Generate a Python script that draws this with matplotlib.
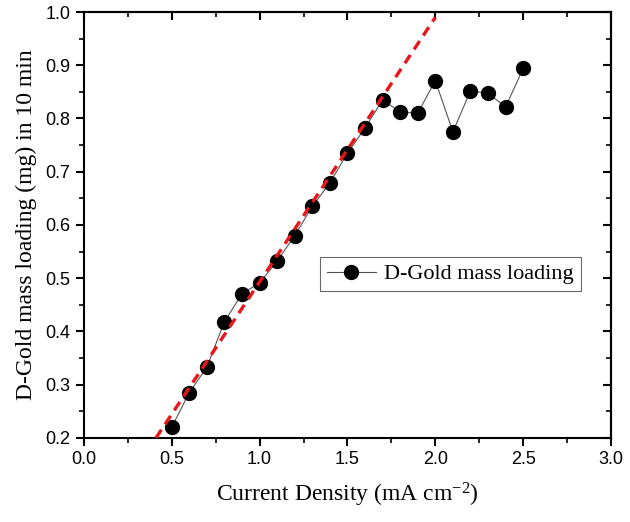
import numpy as np
import matplotlib.pyplot as plt
from matplotlib.ticker import MultipleLocator

# current density (mA cm-2) and deposited mass (mg)
current = [0.5, 0.6, 0.7, 0.8, 0.9, 1.0, 1.1, 1.2, 1.3, 1.4, 1.5,
           1.6, 1.7, 1.8, 1.9, 2.0, 2.1, 2.2, 2.3, 2.4, 2.5]
mass = [0.220, 0.285, 0.333, 0.418, 0.471, 0.491, 0.532, 0.580, 0.635,
        0.679, 0.735, 0.782, 0.835, 0.812, 0.810, 0.871, 0.775, 0.852,
        0.847, 0.822, 0.894]

# linear fit of the low-current region
fit_slope = 0.497
fit_intercept = -0.004
fit_range = [0.41, 2.0]

SERIF = 'Liberation Serif'
SANS = 'Liberation Sans'
plt.rcParams['mathtext.fontset'] = 'custom'
plt.rcParams['mathtext.rm'] = SERIF
plt.rcParams['mathtext.default'] = 'regular'

fig = plt.figure(figsize=(6.3, 5.22), dpi=100)
ax = fig.add_axes([0.133, 0.161, 0.837, 0.816])

ax.plot(current, mass, '-', color='#555555', lw=0.8,
        marker='o', ms=10, mfc='black', mec='black',
        label='D-Gold mass loading', zorder=3)

xf = np.array(fit_range)
ax.plot(xf, fit_slope * xf + fit_intercept, '--', color='#e8161b', lw=2.4,
        dashes=(3, 2), zorder=4)

ax.set_xlim(0, 3.0)
ax.set_ylim(0.2, 1.0)
ax.xaxis.set_major_locator(MultipleLocator(0.5))
ax.xaxis.set_minor_locator(MultipleLocator(0.25))
ax.yaxis.set_major_locator(MultipleLocator(0.1))
ax.yaxis.set_minor_locator(MultipleLocator(0.05))
ax.tick_params(which='major', direction='out', length=6, width=1.5,
               labelsize=13)
ax.tick_params(which='minor', direction='out', length=3.5, width=1.2)
for lab in ax.get_xticklabels() + ax.get_yticklabels():
    lab.set_fontfamily(SANS)
ax.xaxis.set_major_formatter(plt.FuncFormatter(lambda v, p: f'{v:.1f}'))
ax.yaxis.set_major_formatter(plt.FuncFormatter(lambda v, p: f'{v:.1f}'))
for sp in ax.spines.values():
    sp.set_linewidth(1.5)

# mirrored ticks pointing inward on top / right
top = ax.secondary_xaxis('top')
top.xaxis.set_major_locator(MultipleLocator(0.5))
top.xaxis.set_minor_locator(MultipleLocator(0.25))
top.tick_params(which='major', direction='in', length=6, width=1.5,
                labeltop=False)
top.tick_params(which='minor', direction='in', length=3.5, width=1.2)
top.spines['top'].set_linewidth(1.5)
right = ax.secondary_yaxis('right')
right.yaxis.set_major_locator(MultipleLocator(0.1))
right.yaxis.set_minor_locator(MultipleLocator(0.05))
right.tick_params(which='major', direction='in', length=6, width=1.5,
                  labelright=False)
right.tick_params(which='minor', direction='in', length=3.5, width=1.2)
right.spines['right'].set_linewidth(1.5)

ax.set_xlabel('Current Density (mA cm$^{-2}$)', fontfamily=SERIF,
              fontsize=17, labelpad=9)
ax.set_ylabel('D-Gold mass loading (mg) in 10 min', fontfamily=SERIF,
              fontsize=17, labelpad=6)

leg = ax.legend(loc='lower left', bbox_to_anchor=(0.448, 0.345),
                prop={'family': SERIF, 'size': 16}, fancybox=False,
                edgecolor='#444444', handlelength=2.2, borderpad=0.3,
                handletextpad=0.4, borderaxespad=0)
leg.get_frame().set_linewidth(0.8)

fig.savefig('out.png', dpi=100)
